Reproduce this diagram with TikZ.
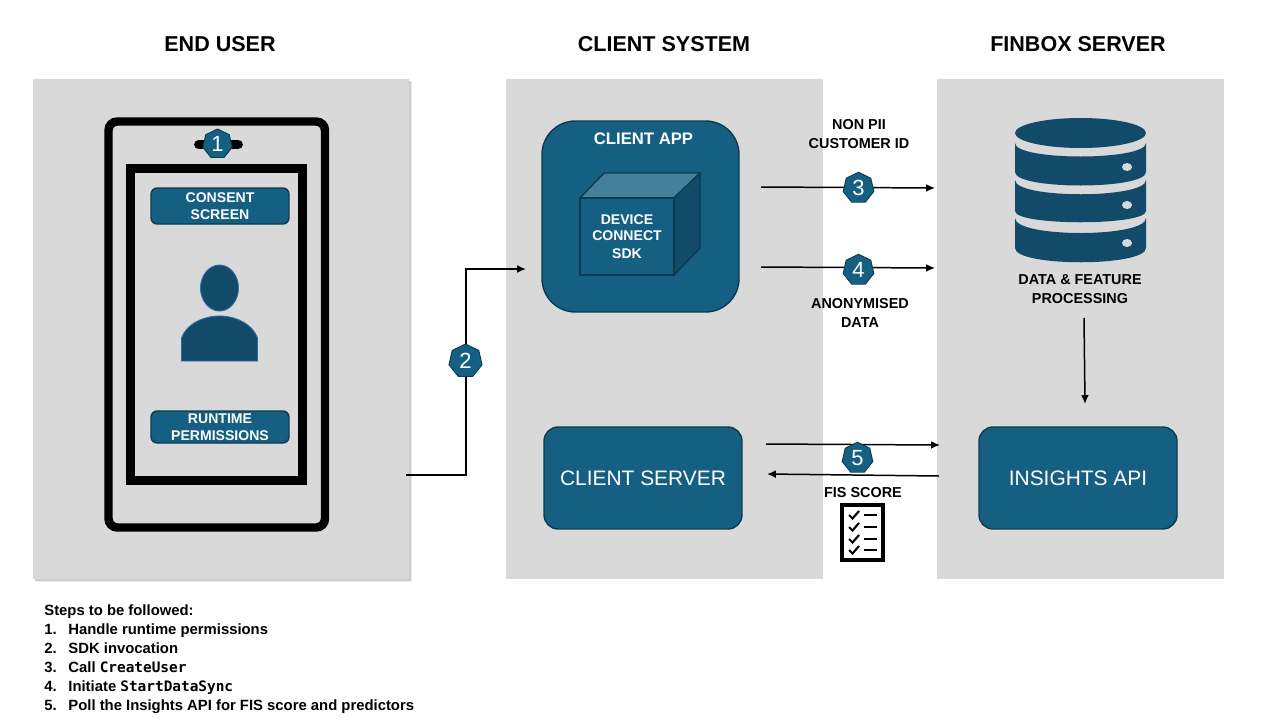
\documentclass[tikz,border=0pt]{standalone}
\usepackage{fontspec}
\setmainfont{Liberation Sans}
\setmonofont{DejaVu Sans Mono}
\usetikzlibrary{shapes.geometric,arrows.meta}
\definecolor{panelgray}{HTML}{D9D9D9}
\definecolor{boxblue}{HTML}{156082}
\definecolor{darkblue}{HTML}{124B69}
\definecolor{liteblue}{HTML}{447F9C}
\definecolor{edgeblue}{HTML}{0C3A50}
\definecolor{personedge}{HTML}{2E6CA4}
\tikzset{
  heading/.style={font=\fontsize{12.25}{14}\selectfont\bfseries,inner sep=0pt},
  label/.style={font=\fontsize{8.2}{10.6}\selectfont\bfseries,align=center,inner sep=0pt},
  bigbox/.style={draw=edgeblue,line width=0.8pt,fill=boxblue,rounded corners=8pt,text=white,
    font=\fontsize{11.9}{14}\selectfont,inner sep=0pt},
  smallbox/.style={draw=edgeblue,line width=0.8pt,fill=boxblue,rounded corners=3.5pt,text=white,
    font=\fontsize{8}{9.6}\selectfont\bfseries,align=center,inner sep=0pt},
  badge/.style={regular polygon,regular polygon sides=7,draw=edgeblue,line width=0.5pt,fill=boxblue,
    text=white,font=\fontsize{12.5}{14}\selectfont,inner sep=0pt,minimum size=0.63cm},
  flow/.style={line width=0.85pt,-{Latex[length=5pt,width=4.4pt]}},
  phone/.style={line width=4.8pt}
}
\newcommand{\stepline}[2]{\makebox[13.7pt][l]{#1}#2}
\begin{document}
\begin{tikzpicture}[x=0.02cm,y=-0.02cm]
\useasboundingbox (0,0) rectangle (1280,720);
% panels
\fill[black!7] (36,82) rectangle (412,582);
\fill[black!20] (35,81) rectangle (411,581);
\fill[panelgray] (33,79) rectangle (409,579);
\fill[panelgray] (506,79) rectangle (823,579);
\fill[panelgray] (937,79) rectangle (1224,579);
\node (enduser) [heading] at (220,44) {END USER};
\node (clientsystem) [heading] at (664,44) {CLIENT SYSTEM};
\node (finboxserver) [heading] at (1078,44) {FINBOX SERVER};
% phone
\draw[phone,rounded corners=5pt] (108.5,121.5) rectangle (325,527.5);
\draw[phone] (130.5,168.5) rectangle (302.5,480.5);
\draw[line width=5.6pt,line cap=round] (199,144.5) -- (238,144.5);
\node (consent) [smallbox,minimum width=2.76cm,minimum height=0.72cm] at (220,206) {CONSENT\\SCREEN};
\node (runtime) [smallbox,minimum width=2.76cm,minimum height=0.64cm] at (220,427) {RUNTIME\\PERMISSIONS};
% person
\draw[fill=darkblue,draw=personedge,line width=0.5pt] (219.5,288) ellipse (19 and 23);
\draw[fill=darkblue,draw=personedge,line width=0.5pt] (181.5,361) -- (181.5,338)
  .. controls (186,325) and (202,316) .. (219.5,316)
  .. controls (237,316) and (253,325) .. (257.5,338) -- (257.5,361) -- cycle;
% client app
\node (clientapp) [bigbox,rounded corners=19pt,minimum width=3.94cm,minimum height=3.82cm] at (640.5,216.5) {};
\node (clientapptext) [label,text=white,font=\fontsize{9.5}{11}\selectfont\bfseries] at (643.5,139) {CLIENT APP};
\draw[fill=liteblue,draw=edgeblue,line width=0.8pt] (580,198) -- (604,173) -- (700,173) -- (674,198) -- cycle;
\draw[fill=darkblue,draw=edgeblue,line width=0.8pt] (674,198) -- (700,173) -- (700,248) -- (674,275) -- cycle;
\node (sdk) [smallbox,rounded corners=0pt,minimum width=1.88cm,minimum height=1.54cm,font=\fontsize{8}{9.8}\selectfont\bfseries] at (627,236.5) {\raisebox{-1pt}{DEVICE}\\\raisebox{-0.6pt}{CONNECT}\\\raisebox{-0.6pt}{SDK}};
\node (clientserver) [bigbox,minimum width=3.96cm,minimum height=2.04cm] at (643,478) {CLIENT SERVER};
% database
\fill[darkblue] (1080.5,133) ellipse (65.5 and 15);
\fill[darkblue] (1015,143) .. controls (1015,161) and (1146,161) .. (1146,143) -- (1146,172)
  .. controls (1146,190) and (1015,190) .. (1015,172) -- cycle;
\fill[darkblue] (1015,180) .. controls (1015,199) and (1146,199) .. (1146,180) -- (1146,211)
  .. controls (1146,226) and (1015,226) .. (1015,211) -- cycle;
\fill[darkblue] (1015,218) .. controls (1015,238) and (1146,238) .. (1146,218) -- (1146,248)
  .. controls (1146,267) and (1015,267) .. (1015,248) -- cycle;
\foreach \y in {167,205,243}
  \fill[panelgray] (1127,\y) ellipse (5 and 4);
\node (processing) [label] at (1080,289) {DATA \& FEATURE\\PROCESSING};
\node (insights) [bigbox,minimum width=3.96cm,minimum height=2.04cm] at (1078,478) {INSIGHTS API};
% connectors
\coordinate (phoneout) at (406,475);
\coordinate (appin) at (526,269);
\coordinate (a3) at (761,187);
\coordinate (b3) at (935,188);
\coordinate (a4) at (761,267);
\coordinate (b4) at (935,268);
\coordinate (a5) at (766,444);
\coordinate (b5) at (940,445);
\coordinate (c5) at (939,476);
\coordinate (d5) at (767,474);
\coordinate (procout) at (1084,318);
\coordinate (apiin) at (1085,404);
\draw[flow] (phoneout) -- (466,475) -- (466,269) -- (appin);
\draw[flow] (a3) -- (b3);
\draw[flow] (a4) -- (b4);
\draw[flow] (a5) -- (b5);
\draw[flow] (c5) -- (d5);
\draw[flow] (procout) -- (apiin);
\node (one) [badge,minimum size=0.6cm] at (217.5,144) {1};
\node (two) [badge,minimum size=0.68cm] at (465.5,361) {2};
\node (three) [badge] at (858.5,188) {3};
\node (four) [badge] at (858.5,270) {4};
\node (five) [badge] at (857.5,458) {5};
\node (nonpii) [label] at (859,134) {NON PII\\CUSTOMER ID};
\node (anon) [label] at (860,313) {ANONYMISED\\DATA};
\node (fis) [label] at (863,493) {FIS SCORE};
% checklist
\draw[line width=2.3pt] (842,505) rectangle (883,560);
\foreach \y in {515,527,539,550} {
  \draw[line width=1.2pt] (849,\y) -- (852.5,\y+3.5) -- (859,\y-4);
  \draw[line width=1.5pt] (864,\y) -- (877,\y);
}
% steps
\node (steps) [anchor=north west,align=left,inner sep=0pt,font=\fontsize{8.45}{10.8}\selectfont\bfseries] at (44,604.5) {Steps to be followed:\\
\stepline{1.}{Handle runtime permissions}\\
\stepline{2.}{SDK invocation}\\
\stepline{3.}{Call {\ttfamily\fontsize{8.2}{10.8}\selectfont CreateUser}}\\
\stepline{4.}{Initiate {\ttfamily\fontsize{8.2}{10.8}\selectfont StartDataSync}}\\
\stepline{5.}{Poll the Insights API for FIS score and predictors}};
\end{tikzpicture}
\end{document}
